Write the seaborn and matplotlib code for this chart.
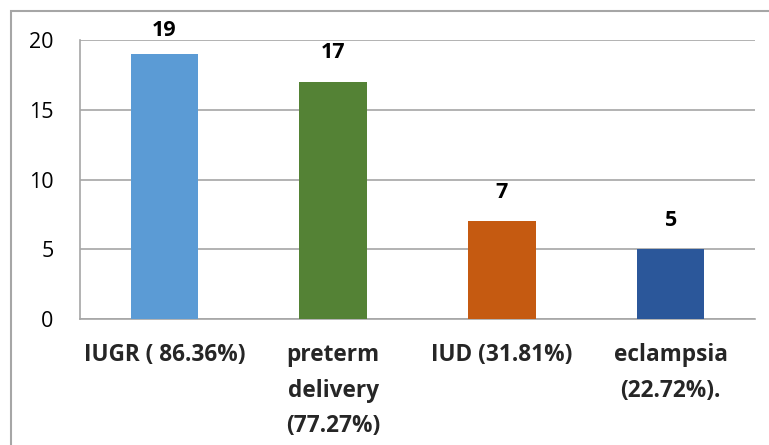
import matplotlib
matplotlib.use("Agg")
import matplotlib.pyplot as plt
import seaborn as sns
import pandas as pd
from matplotlib.patches import Rectangle

categories = ["IUGR ( 86.36%)", "preterm\ndelivery\n(77.27%)", "IUD (31.81%)", "eclampsia\n(22.72%)."]
counts = [19, 17, 7, 5]
colors = ["#5B9BD5", "#548235", "#C55A11", "#2B579A"]
y_ticks = [0, 5, 10, 15, 20]

sns.set_theme(style="white")
plt.rcParams["font.family"] = ["Open Sans", "DejaVu Sans"]

W, H = 769, 445
fig = plt.figure(figsize=(W / 100, H / 100), dpi=100)
ax = fig.add_axes([80 / W, 1 - 319 / H, (755 - 80) / W, (319 - 40) / H])

df = pd.DataFrame({"cat": categories, "n": counts})
sns.barplot(data=df, x="cat", y="n", hue="cat", palette=colors, width=0.40,
            legend=False, ax=ax, saturation=1, zorder=3, edgecolor="none")

grid_c = "#A6A6A6"
ax.set_ylim(0, 20)
ax.set_xlim(-0.5, 3.5)
ax.set_yticks(y_ticks)
ax.yaxis.grid(True, color=grid_c, linewidth=1.2, zorder=0)
for s in ["right", "top"]:
    ax.spines[s].set_visible(False)
ax.spines["bottom"].set_color(grid_c)
ax.spines["left"].set_color(grid_c)
ax.spines["bottom"].set_linewidth(1.2)
ax.spines["left"].set_linewidth(1.2)
ax.set_xlabel("")
ax.set_ylabel("")
ax.tick_params(axis="y", length=0, pad=19, labelsize=15.5, labelcolor="#000000")
ax.tick_params(axis="x", length=0, pad=17.5, labelsize=16.3)
for lbl in ax.get_xticklabels():
    lbl.set_fontweight("bold")
    lbl.set_linespacing(1.63)
    lbl.set_verticalalignment("top")
    lbl.set_multialignment("center")

# value labels above each bar, kept inside the top margin
px_per_unit = (319 - 40) / 20
for i, v in enumerate(counts):
    top_px = 319 - v * px_per_unit
    center_px = max(top_px - 29, 31)
    off_px = top_px - center_px
    ax.annotate(str(v), (i, v), xytext=(0, off_px * 0.72), textcoords="offset points",
                ha="center", va="center", fontsize=15.5, fontweight="bold", color="#000000")

# chart frame
fig.patches.append(Rectangle((11 / W, -0.1), 1.2, 1.1 - 11 / H,
                             transform=fig.transFigure, fill=False,
                             edgecolor=grid_c, linewidth=1.5))

fig.savefig("out.png", dpi=100)
